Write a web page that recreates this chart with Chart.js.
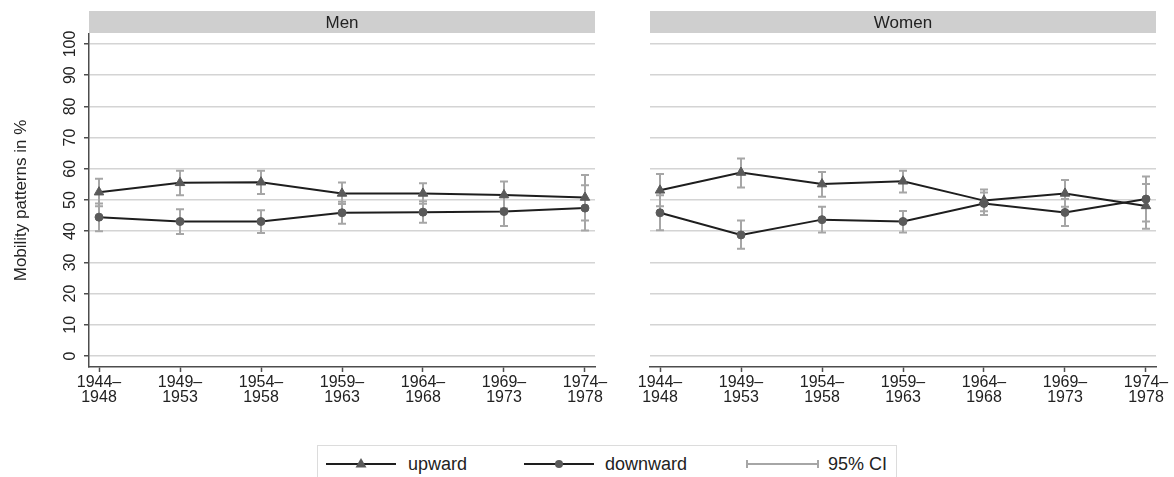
<!DOCTYPE html>
<html>
<head>
<meta charset="utf-8">
<script src="https://cdn.jsdelivr.net/npm/chart.js@4.4.1/dist/chart.umd.min.js"></script>
<style>
  body { margin: 0; width: 1174px; height: 477px; overflow: hidden; background: #fff; position: relative;
         font-family: 'Liberation Sans', Arial, Helvetica, sans-serif; color: #222; }
  #menChart { position: absolute; left: 0; top: 0; }
  #womenChart { position: absolute; left: 600px; top: 0; }
  #legend { position: absolute; left: 317px; top: 445px; width: 580px; height: 44px;
            border: 1px solid #dcdcdc; box-sizing: border-box; }
  .item { position: absolute; top: 8px; font-size: 18px; line-height: 20px; }
  .item svg { position: absolute; top: 0; }
</style>
</head>
<body>
<canvas id="menChart" width="625" height="430"></canvas>
<canvas id="womenChart" width="574" height="430"></canvas>
<div id="legend">
  <div class="item" style="left:8px;"><svg width="72" height="20"><line x1="0" y1="10" x2="70" y2="10" stroke="#1e1e1e" stroke-width="2"/><polygon points="35,4 40.5,13.5 29.5,13.5" fill="#5a5a5a"/></svg><span style="position:absolute;left:82px;">upward</span></div>
  <div class="item" style="left:206px;"><svg width="72" height="20"><line x1="0" y1="10" x2="70" y2="10" stroke="#1e1e1e" stroke-width="2"/><circle cx="35" cy="10" r="4" fill="#5a5a5a"/></svg><span style="position:absolute;left:81px;white-space:nowrap;">downward</span></div>
  <div class="item" style="left:428px;"><svg width="74" height="20"><line x1="1" y1="10" x2="72" y2="10" stroke="#a6a6a6" stroke-width="2"/><line x1="1" y1="6" x2="1" y2="14" stroke="#a6a6a6" stroke-width="2"/><line x1="72" y1="6" x2="72" y2="14" stroke="#a6a6a6" stroke-width="2"/></svg><span style="position:absolute;left:82px;white-space:nowrap;">95% CI</span></div>
</div>

<script>
const FONT = "'Liberation Sans', Arial, Helvetica, sans-serif";

// cohorts on the x axis
const categories = ['1944–1948', '1949–1953', '1954–1958', '1959–1963', '1964–1968', '1969–1973', '1974–1978'];
const yTicks = [0, 10, 20, 30, 40, 50, 60, 70, 80, 90, 100];

// Men
const menUp     = [52.5, 55.5, 55.7, 52.1, 52.1, 51.6, 50.8];
const menUpLo   = [48.0, 51.5, 51.9, 48.7, 48.8, 47.3, 43.4];
const menUpHi   = [56.8, 59.4, 59.4, 55.6, 55.4, 55.9, 58.0];
const menDown   = [44.5, 43.1, 43.1, 45.9, 46.1, 46.3, 47.4];
const menDownLo = [40.0, 39.1, 39.4, 42.4, 42.7, 41.7, 40.2];
const menDownHi = [48.9, 47.0, 46.7, 49.4, 49.6, 50.9, 54.7];

// Women
const womenUp     = [53.1, 58.8, 55.1, 56.0, 49.8, 52.1, 48.1];
const womenUpLo   = [48.0, 54.0, 51.0, 52.4, 46.4, 47.8, 40.8];
const womenUpHi   = [58.3, 63.3, 59.0, 59.4, 53.4, 56.4, 55.1];
const womenDown   = [45.9, 38.8, 43.7, 43.1, 48.9, 46.0, 50.3];
const womenDownLo = [40.3, 34.4, 39.6, 39.6, 45.2, 41.7, 43.1];
const womenDownHi = [51.5, 43.4, 47.8, 46.5, 52.4, 50.3, 57.5];

function toPoints(values) {
    return values.map((v, i) => ({ x: i, y: v }));
}

function splitLabel(label) {
    const parts = label.split('–');
    return [parts[0] + '–', parts[1]];
}

// grey panel header above each plot
const stripPlugin = {
    id: 'strip',
    beforeDraw(chart, args, opts) {
        const { ctx, chartArea } = chart;
        ctx.save();
        ctx.fillStyle = '#cfcfcf';
        ctx.fillRect(chartArea.left, 11, chartArea.right - chartArea.left, 22);
        ctx.fillStyle = '#222';
        ctx.font = '17px ' + FONT;
        ctx.textAlign = 'center';
        ctx.textBaseline = 'middle';
        ctx.fillText(opts.text, (chartArea.left + chartArea.right) / 2, 23);
        ctx.restore();
    }
};

// 95% confidence intervals, drawn under the lines
const ciPlugin = {
    id: 'ci',
    beforeDatasetsDraw(chart) {
        const { ctx, scales: { y } } = chart;
        ctx.save();
        ctx.strokeStyle = '#a6a6a6';
        ctx.lineWidth = 2;
        chart.data.datasets.forEach((ds, di) => {
            const meta = chart.getDatasetMeta(di);
            meta.data.forEach((pt, i) => {
                const lo = y.getPixelForValue(ds.ciLow[i]);
                const hi = y.getPixelForValue(ds.ciHigh[i]);
                ctx.beginPath();
                ctx.moveTo(pt.x, lo); ctx.lineTo(pt.x, hi);
                ctx.moveTo(pt.x - 4, lo); ctx.lineTo(pt.x + 4, lo);
                ctx.moveTo(pt.x - 4, hi); ctx.lineTo(pt.x + 4, hi);
                ctx.stroke();
            });
        });
        ctx.restore();
    }
};

// vertical (rotated) y tick labels, Stata style
const yLabelPlugin = {
    id: 'yLabels',
    afterDraw(chart, args, opts) {
        if (!opts.show) return;
        const { ctx, scales: { y } } = chart;
        ctx.save();
        ctx.fillStyle = '#222';
        ctx.font = '16px ' + FONT;
        ctx.textAlign = 'center';
        ctx.textBaseline = 'middle';
        yTicks.forEach(v => {
            ctx.save();
            ctx.translate(71, y.getPixelForValue(v));
            ctx.rotate(-Math.PI / 2);
            ctx.fillText(String(v), 0, 0);
            ctx.restore();
        });
        ctx.restore();
    }
};

function makeChart(id, title, up, upLo, upHi, down, downLo, downHi, isLeft) {
    const ctx = document.getElementById(id).getContext('2d');
    return new Chart(ctx, {
        type: 'line',
        data: {
            datasets: [
                {
                    label: 'upward',
                    data: toPoints(up),
                    ciLow: upLo,
                    ciHigh: upHi,
                    borderColor: '#1e1e1e',
                    borderWidth: 2,
                    pointStyle: 'triangle',
                    pointRadius: 5.5,
                    pointBackgroundColor: '#5a5a5a',
                    pointBorderColor: '#5a5a5a',
                    pointBorderWidth: 1,
                    tension: 0
                },
                {
                    label: 'downward',
                    data: toPoints(down),
                    ciLow: downLo,
                    ciHigh: downHi,
                    borderColor: '#1e1e1e',
                    borderWidth: 2,
                    pointStyle: 'circle',
                    pointRadius: 4,
                    pointBackgroundColor: '#5a5a5a',
                    pointBorderColor: '#5a5a5a',
                    pointBorderWidth: 1,
                    tension: 0
                }
            ]
        },
        options: {
            responsive: false,
            animation: false,
            events: [],
            layout: {
                padding: isLeft ? { top: 34, left: 0, right: 30, bottom: 3 }
                                : { top: 34, left: 50, right: 18, bottom: 3 }
            },
            plugins: {
                legend: { display: false },
                tooltip: { enabled: false },
                strip: { text: title },
                yLabels: { show: isLeft }
            },
            scales: {
                x: {
                    type: 'linear',
                    min: -0.1235,
                    max: 6.1235,
                    afterBuildTicks: s => { s.ticks = categories.map((c, i) => ({ value: i })); },
                    afterFit: s => { s.height = 60; },
                    ticks: {
                        callback: v => splitLabel(categories[v]),
                        color: '#222',
                        font: { family: FONT, size: 16, lineHeight: 0.95 },
                        padding: 3,
                        maxRotation: 0,
                        autoSkip: false
                    },
                    grid: { drawOnChartArea: false, drawTicks: true, tickLength: 5, tickColor: '#4d4d4d', tickWidth: 1.5 },
                    border: { display: true, color: '#4d4d4d', width: 1.5 }
                },
                y: {
                    min: -3.53,
                    max: 103.2,
                    afterBuildTicks: s => { s.ticks = yTicks.map(v => ({ value: v })); },
                    afterFit: s => { s.width = isLeft ? 89 : 0; },
                    ticks: { display: false },
                    grid: { color: '#d4d4d4', lineWidth: 1.5, drawTicks: isLeft, tickLength: 5, tickColor: '#4d4d4d', tickWidth: 1.5 },
                    border: { display: isLeft, color: '#4d4d4d', width: 1.5 },
                    title: {
                        display: isLeft,
                        text: 'Mobility patterns in %',
                        color: '#222',
                        font: { family: FONT, size: 17 },
                        padding: { top: 11, bottom: 0 }
                    }
                }
            }
        },
        plugins: [stripPlugin, ciPlugin, yLabelPlugin]
    });
}

makeChart('menChart', 'Men', menUp, menUpLo, menUpHi, menDown, menDownLo, menDownHi, true);
makeChart('womenChart', 'Women', womenUp, womenUpLo, womenUpHi, womenDown, womenDownLo, womenDownHi, false);
</script>
</body>
</html>
